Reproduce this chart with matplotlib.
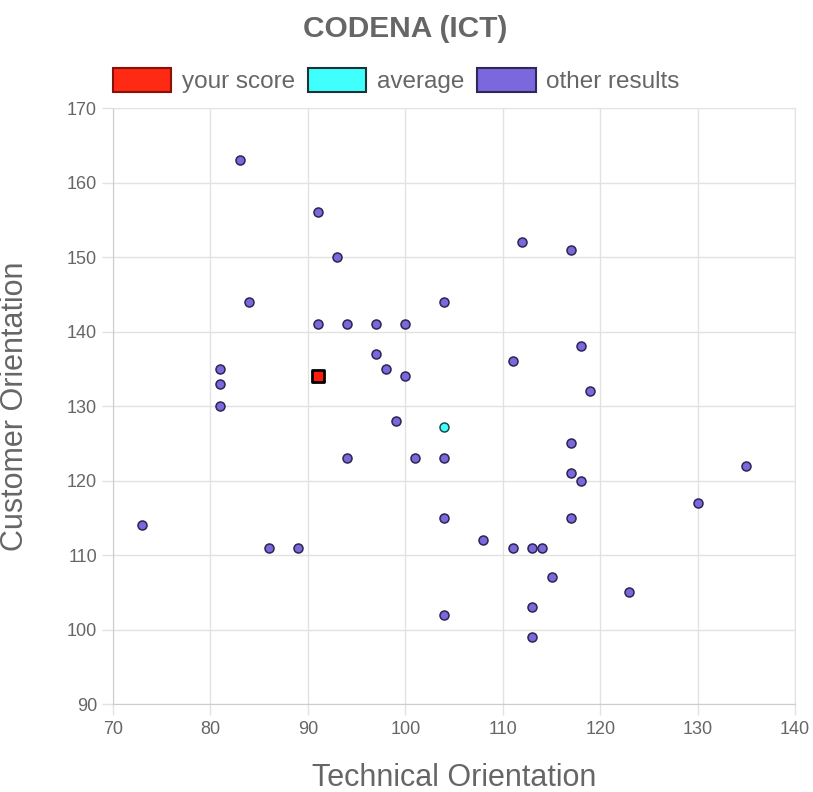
import matplotlib.pyplot as plt
from matplotlib.patches import Patch

plt.rcParams['font.family'] = ['Liberation Sans', 'DejaVu Sans']

# other results (technical, customer)
other_x = [83, 91, 93, 112, 117, 84, 91, 94, 97, 100, 104, 111, 118,
           81, 81, 81, 97, 98, 100, 119, 99, 94, 101, 104, 117, 117, 118,
           135, 130, 73, 104, 117, 108, 86, 89, 111, 113, 114, 115, 123,
           113, 104, 113]
other_y = [163, 156, 150, 152, 151, 144, 141, 141, 141, 141, 144, 136, 138,
           135, 133, 130, 137, 135, 134, 132, 128, 123, 123, 123, 125, 121, 120,
           122, 117, 114, 115, 115, 112, 111, 111, 111, 111, 111, 107, 105,
           103, 102, 99]
score_x, score_y = [91], [134]
avg_x, avg_y = [104], [127.2]

x_ticks = [70, 80, 90, 100, 110, 120, 130, 140]
y_ticks = [90, 100, 110, 120, 130, 140, 150, 160, 170]

text_col = '#666666'
grid_col = '#e2e2e2'

fig = plt.figure(figsize=(8.13, 7.92), dpi=100)
ax = fig.add_axes([0.139, 0.1111, 0.839, 0.7525])

ax.scatter(other_x, other_y, s=42, color='#7a68dc', edgecolors='#2a2650',
           linewidths=1.1, zorder=3)
ax.scatter(avg_x, avg_y, s=42, color='#40ffff', edgecolors='#1f4a4a',
           linewidths=1.1, zorder=4)
ax.scatter(score_x, score_y, s=80, marker='s', color='#ff1a0a',
           edgecolors='black', linewidths=2, zorder=5)

ax.set_xlim(70, 140)
ax.set_ylim(90, 170)
ax.set_xticks(x_ticks)
ax.set_yticks(y_ticks)
ax.grid(True, color=grid_col, linewidth=1)
ax.set_axisbelow(True)
for s in ax.spines.values():
    s.set_color(grid_col)
ax.spines['left'].set_color('#cccccc')
ax.spines['bottom'].set_color('#cccccc')
ax.tick_params(axis='both', colors=grid_col, labelcolor=text_col,
               labelsize=13, length=8, width=1)
ax.tick_params(axis='x', pad=4)

ax.set_xlabel('Technical Orientation', fontsize=22, color=text_col, labelpad=18)
ax.set_ylabel('Customer Orientation', fontsize=22, color=text_col)
ax.yaxis.set_label_coords(-0.122, 0.5)

fig.text(0.498, 0.963, 'CODENA (ICT)', ha='center', va='center',
         fontsize=21.5, fontweight='bold', color=text_col)

handles = [Patch(facecolor='#ff2a14', edgecolor='#8a1008', linewidth=1.5),
           Patch(facecolor='#40ffff', edgecolor='#1a3333', linewidth=1.5),
           Patch(facecolor='#7a68dc', edgecolor='#2e2a55', linewidth=1.5)]
leg = fig.legend(handles, ['your score', 'average', 'other results'],
                 loc='center', bbox_to_anchor=(0.4877, 0.898), ncol=3,
                 frameon=False, fontsize=17.5, handlelength=2.39,
                 handleheight=1.1, handletextpad=0.45, columnspacing=0.53,
                 borderpad=0)
for t in leg.get_texts():
    t.set_color(text_col)

fig.savefig('out.png', dpi=100)
